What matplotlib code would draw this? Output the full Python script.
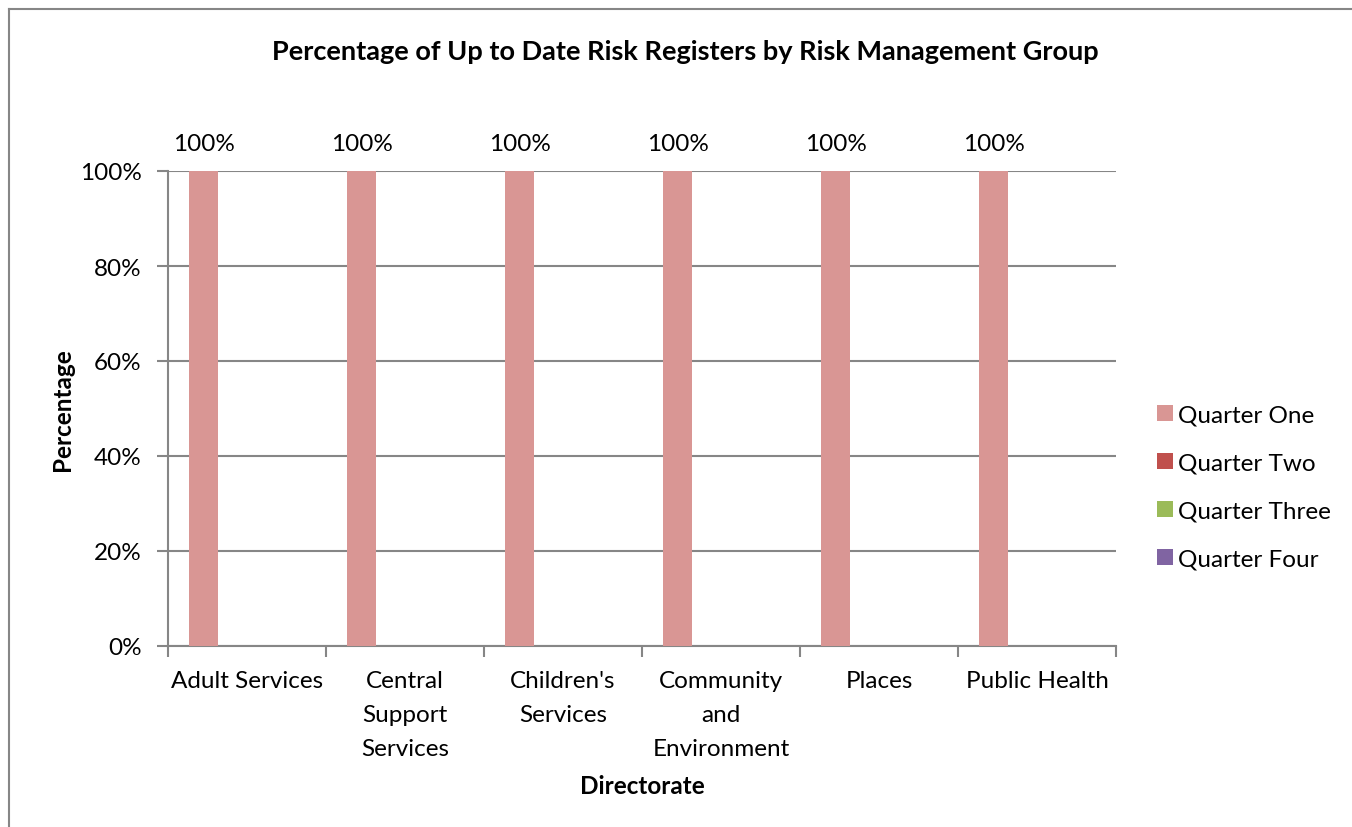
import matplotlib.pyplot as plt
import numpy as np
from matplotlib.lines import Line2D
from matplotlib.patches import Patch

plt.rcParams['font.family'] = ['Lato', 'DejaVu Sans']

directorates = ["Adult Services", "Central\nSupport\nServices", "Children's\nServices",
                "Community\nand\nEnvironment", "Places", "Public Health"]
quarters = ["Quarter One", "Quarter Two", "Quarter Three", "Quarter Four"]
q1 = [100, 100, 100, 100, 100, 100]
q2 = [0, 0, 0, 0, 0, 0]
q3 = [0, 0, 0, 0, 0, 0]
q4 = [0, 0, 0, 0, 0, 0]
colours = ["#D99694", "#C0504D", "#9BBB59", "#8064A2"]

W, H = 1352, 828
fs = 17.5
fig = plt.figure(figsize=(W / 100, H / 100), dpi=100)
ax = fig.add_axes([168 / W, (H - 647) / H, (1116 - 168) / W, (647 - 172) / H])

x = np.arange(len(directorates))
bw = 29 / 158
grid_col = "#868686"

for i, (vals, col) in enumerate(zip([q1, q2, q3, q4], colours)):
    offs = (i - 1.5) * bw
    bars = ax.bar(x + offs, vals, width=bw, color=col, zorder=3)
    if i == 0:
        for b, v in zip(bars, vals):
            ax.text(b.get_x() + b.get_width() / 2, v + 3.5, f"{v}%",
                    ha="center", va="bottom", fontsize=fs, clip_on=False)

ax.set_xlim(-0.5, len(directorates) - 0.5)
ax.set_ylim(0, 100)
ax.set_yticks(range(0, 101, 20))
ax.set_yticklabels([f"{t}%" for t in range(0, 101, 20)], fontsize=fs)
ax.yaxis.grid(True, color=grid_col, linewidth=1.5, zorder=0)

# category labels between tick marks at group boundaries
ax.set_xticks(np.arange(-0.5, len(directorates), 1))
ax.set_xticklabels([])
ax.set_xticks(x, minor=True)
ax.set_xticklabels(directorates, minor=True, fontsize=fs, linespacing=1.78, va="top")
ax.tick_params(axis="x", which="minor", length=0, pad=17)
ax.tick_params(axis="x", which="major", length=8, width=1.5, color=grid_col)
ax.tick_params(axis="y", length=8, width=1.5, color=grid_col, pad=11)

for s in ["top", "right"]:
    ax.spines[s].set_visible(False)
for s in ["left", "bottom"]:
    ax.spines[s].set_color(grid_col)
    ax.spines[s].set_linewidth(1.5)

fig.text(685 / W, 1 - 52 / H, "Percentage of Up to Date Risk Registers by Risk Management Group",
         ha="center", va="center", fontsize=19.5, fontweight="bold")
fig.text(62 / W, 1 - 410 / H, "Percentage", rotation=90, ha="center", va="center",
         fontsize=fs, fontweight="bold")
fig.text(642 / W, 1 - 787 / H, "Directorate", ha="center", va="center",
         fontsize=fs, fontweight="bold")

handles = [Patch(facecolor=c, edgecolor="none") for c in colours]
fig.legend(handles, quarters, loc="center left", bbox_to_anchor=(1157 / W, 1 - 488 / H),
           frameon=False, fontsize=fs, handlelength=0.65, handleheight=0.65,
           handletextpad=0.2, labelspacing=1.12, borderaxespad=0, borderpad=0)

# chart area border (left and top edges)
fig.add_artist(Line2D([9 / W, 9 / W], [0, 1 - 10 / H], transform=fig.transFigure,
                      color=grid_col, linewidth=1.5))
fig.add_artist(Line2D([9 / W, 1], [1 - 10 / H, 1 - 10 / H], transform=fig.transFigure,
                      color=grid_col, linewidth=1.5))

fig.savefig("out.png", dpi=100, facecolor="white")
